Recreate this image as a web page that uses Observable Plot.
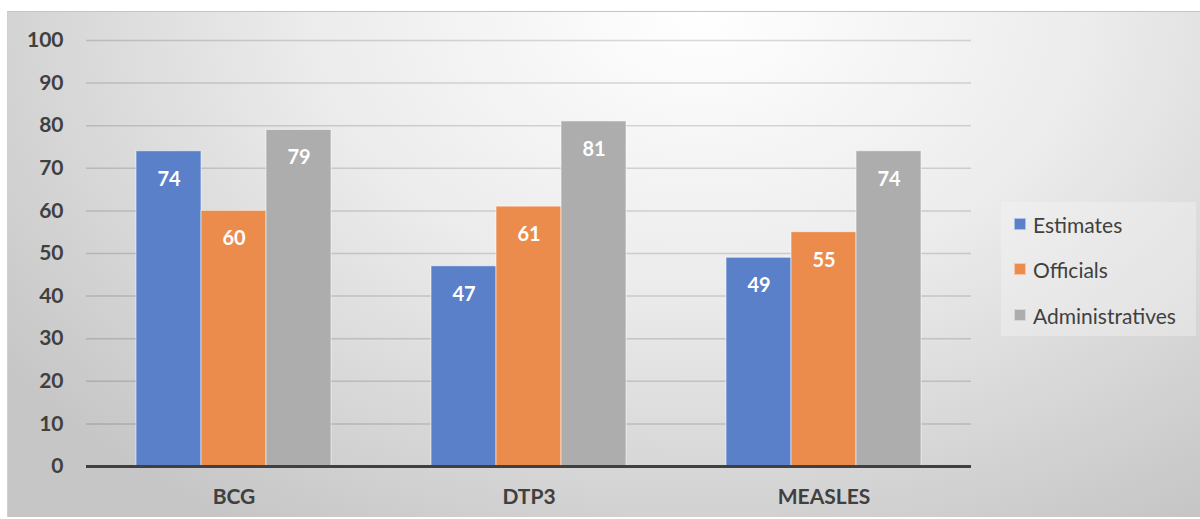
<!DOCTYPE html>
<html>
<head>
<meta charset="utf-8">
<script src="https://cdn.jsdelivr.net/npm/d3@7"></script>
<script src="https://cdn.jsdelivr.net/npm/@observablehq/plot@0.6"></script>
<style>
  html, body { margin: 0; padding: 0; background: #fff; }
  #wrap { position: relative; width: 1200px; height: 519px; overflow: hidden; font-family: Lato, "Open Sans", sans-serif; }
  #panel { position: absolute; left: 7px; top: 11px; width: 1193px; height: 505px;
    border-top: 1px solid #c4c4c4; border-left: 1px solid #d0d0d0;
    background: radial-gradient(ellipse 72% 120% at 58% 0%, #ffffff 0%, #ececec 45%, #c6c6c6 100%); }
  #chart { position: absolute; left: 0; top: 0; }
  #legend { position: absolute; left: 1001px; top: 202px; width: 195px; height: 134px;
    background: rgba(245,245,245,0.4); }
  .item { position: absolute; left: 13px; height: 30px; display: flex; align-items: center; font-size: 21px; color: #404040; white-space: nowrap; }
  .sw { width: 12px; height: 12px; margin-right: 7px; box-sizing: border-box; border: 1px solid rgba(255,255,255,0.5); }
</style>
</head>
<body>
<div id="wrap">
  <div id="panel"></div>
  <div id="chart"></div>
  <div id="legend"></div>
</div>
<script>
const categories = ["BCG", "DTP3", "MEASLES"];
const series = ["Estimates", "Officials", "Administratives"];
const estimates = [74, 47, 49];
const officials = [60, 61, 55];
const administratives = [79, 81, 74];
const yTicks = [0, 10, 20, 30, 40, 50, 60, 70, 80, 90, 100];
const colors = ["#5a80c9", "#ec8c4c", "#adadad"];

const valuesBySeries = [estimates, officials, administratives];
const data = [];
categories.forEach((c, i) => {
  series.forEach((s, j) => data.push({category: c, series: s, value: valuesBySeries[j][i]}));
});

const chart = Plot.plot({
  width: 1200,
  height: 519,
  marginLeft: 85,
  marginRight: 228,
  marginTop: 40,
  marginBottom: 53,
  style: {background: "transparent", fontFamily: "Lato, 'Open Sans', sans-serif", fontSize: "20px", fontWeight: "bold", color: "#404040"},
  fx: {domain: categories, padding: 0, label: null},
  x: {domain: series, paddingInner: 0, paddingOuter: 0.764, axis: null},
  y: {domain: [0, 100], label: null},
  color: {domain: series, range: colors},
  marks: [
    Plot.gridY(yTicks, {stroke: "#000", strokeOpacity: 0.14, strokeWidth: 1.5}),
    Plot.barY(data, {fx: "category", x: "series", y: "value", fill: "series", stroke: "#ffffff", strokeOpacity: 0.55, strokeWidth: 1}),
    Plot.text(data, {fx: "category", x: "series", y: "value", text: d => String(d.value), dy: 28, fill: "white", fontSize: 20, fontWeight: "bold"}),
    Plot.ruleY([0], {stroke: "#404040", strokeWidth: 3}),
    Plot.axisY(yTicks, {tickSize: 0, tickPadding: 23, label: null, fill: "#404040", fontSize: 21}),
    Plot.axisFx({anchor: "bottom", tickSize: 0, tickPadding: 23, label: null, fill: "#404040", fontSize: 21})
  ]
});
document.getElementById("chart").appendChild(chart);

const legend = document.getElementById("legend");
const rowTops = [7, 52, 98];
series.forEach((s, i) => {
  const item = document.createElement("div");
  item.className = "item";
  item.style.top = rowTops[i] + "px";
  const sw = document.createElement("span");
  sw.className = "sw";
  sw.style.background = colors[i];
  const t = document.createElement("span");
  t.textContent = s;
  item.appendChild(sw);
  item.appendChild(t);
  legend.appendChild(item);
});
</script>
</body>
</html>
